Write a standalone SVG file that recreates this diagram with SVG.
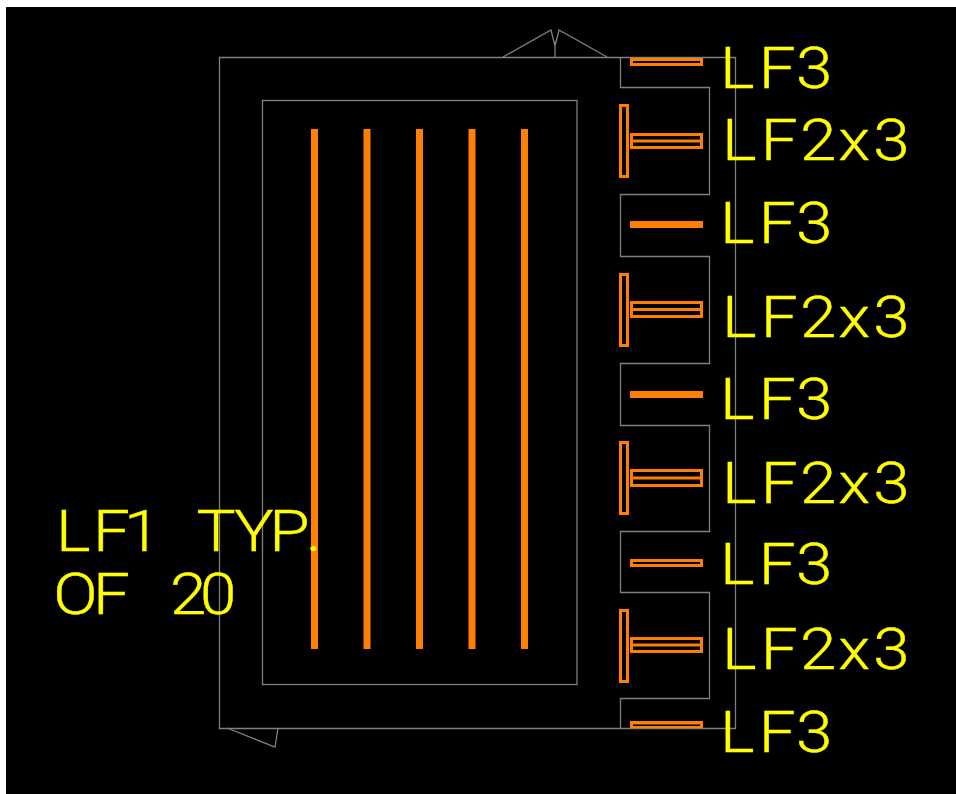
<svg xmlns="http://www.w3.org/2000/svg" width="956" height="794" viewBox="0 0 956 794">
<style>
.l{fill:none;stroke:#808080;stroke-width:1.3}
.o{fill:none;stroke:#ff7f00;stroke-width:3}
.s{fill:#ff7f00}
text{fill:#ffff00;stroke:#ffff00;stroke-width:.4;font-family:"Roboto","Liberation Sans",sans-serif;font-weight:300;font-size:57px}
</style>
<rect width="956" height="794" fill="#fff"/>
<rect x="6" y="7" width="950" height="787" fill="#000"/>
<g id="connectors">
<path class="l" d="M219.500 57.500H735.500V728.500H219.500Z"/>
<rect class="l" x="262.500" y="100.500" width="314.500" height="584"/>
<path class="l" d="M620.500 57.500V87.500H709.500V194.500H620.500V256.500H709.500V363.500H620.500V425.500H709.500V531.500H620.500V592.500H709.500V698.500H620.500V728.500"/>
<path class="l" d="M503 57L551 30L555 46L559 30L607 57M555 57V42"/>
<path class="l" d="M227 728L275 747L278 728"/>
</g>
<g id="lf1-bars">
<rect class="s" x="311" y="129" width="7" height="520"/>
<rect class="s" x="363.500" y="129" width="7" height="520"/>
<rect class="s" x="416" y="129" width="7" height="520"/>
<rect class="s" x="468.500" y="129" width="7" height="520"/>
<rect class="s" x="521" y="129" width="7" height="520"/>
</g>
<g id="lf3-1"><rect class="o" x="631.500" y="59.500" width="70" height="5"/><text transform="translate(718.400 88) scale(1.15 1)" x="1.300 35.200 67.500">LF3</text></g>
<g id="lf2-1"><rect class="o" x="620.500" y="105.500" width="7" height="71"/><rect class="o" x="631.500" y="134.500" width="70" height="13"/><path class="o" d="M631 141H702"/><text transform="translate(720.400 160) scale(1.15 1)" x="1.300 35.200 69.200 102.500 133">LF2x3</text></g>
<g id="lf3-2"><rect class="s" x="630" y="221" width="73" height="7"/><text transform="translate(718.400 243) scale(1.15 1)" x="1.300 35.200 67.500">LF3</text></g>
<g id="lf2-2"><rect class="o" x="620.500" y="274.500" width="7" height="71"/><rect class="o" x="631.500" y="302.500" width="70" height="14"/><path class="o" d="M631 309.500H702"/><text transform="translate(720.400 337) scale(1.15 1)" x="1.300 35.200 69.200 102.500 133">LF2x3</text></g>
<g id="lf3-3"><rect class="s" x="630" y="391" width="73" height="7"/><text transform="translate(718.400 419) scale(1.15 1)" x="1.300 35.200 67.500">LF3</text></g>
<g id="lf2-3"><rect class="o" x="620.500" y="442.500" width="7" height="71"/><rect class="o" x="631.500" y="470.500" width="70" height="15"/><path class="o" d="M631 478H702"/><text transform="translate(720.400 503) scale(1.15 1)" x="1.300 35.200 69.200 102.500 133">LF2x3</text></g>
<g id="lf3-4"><rect class="o" x="631.500" y="560.500" width="70" height="5"/><text transform="translate(718.400 584) scale(1.15 1)" x="1.300 35.200 67.500">LF3</text></g>
<g id="lf2-4"><rect class="o" x="620.500" y="610.500" width="7" height="71"/><rect class="o" x="631.500" y="638.500" width="70" height="13"/><path class="o" d="M631 645H702"/><text transform="translate(720.400 669) scale(1.15 1)" x="1.300 35.200 69.200 102.500 133">LF2x3</text></g>
<g id="lf3-5"><path class="s" fill-rule="evenodd" d="M630 721H703V728H630ZM633 724.500V726H700V724.500Z"/><text transform="translate(718.400 752) scale(1.15 1)" x="1.300 35.200 67.500">LF3</text></g>
<g id="lf1-label"><text transform="translate(54.400 551) scale(1.15 1)" x="1.300 33.500 60.500 100 123.500 156.500 186.800 218.800">LF1 TYP.</text><text transform="translate(54.400 614) scale(1.15 1)" x="-1 33.500 70 100.500 126.600">OF 20</text></g>
</svg>
